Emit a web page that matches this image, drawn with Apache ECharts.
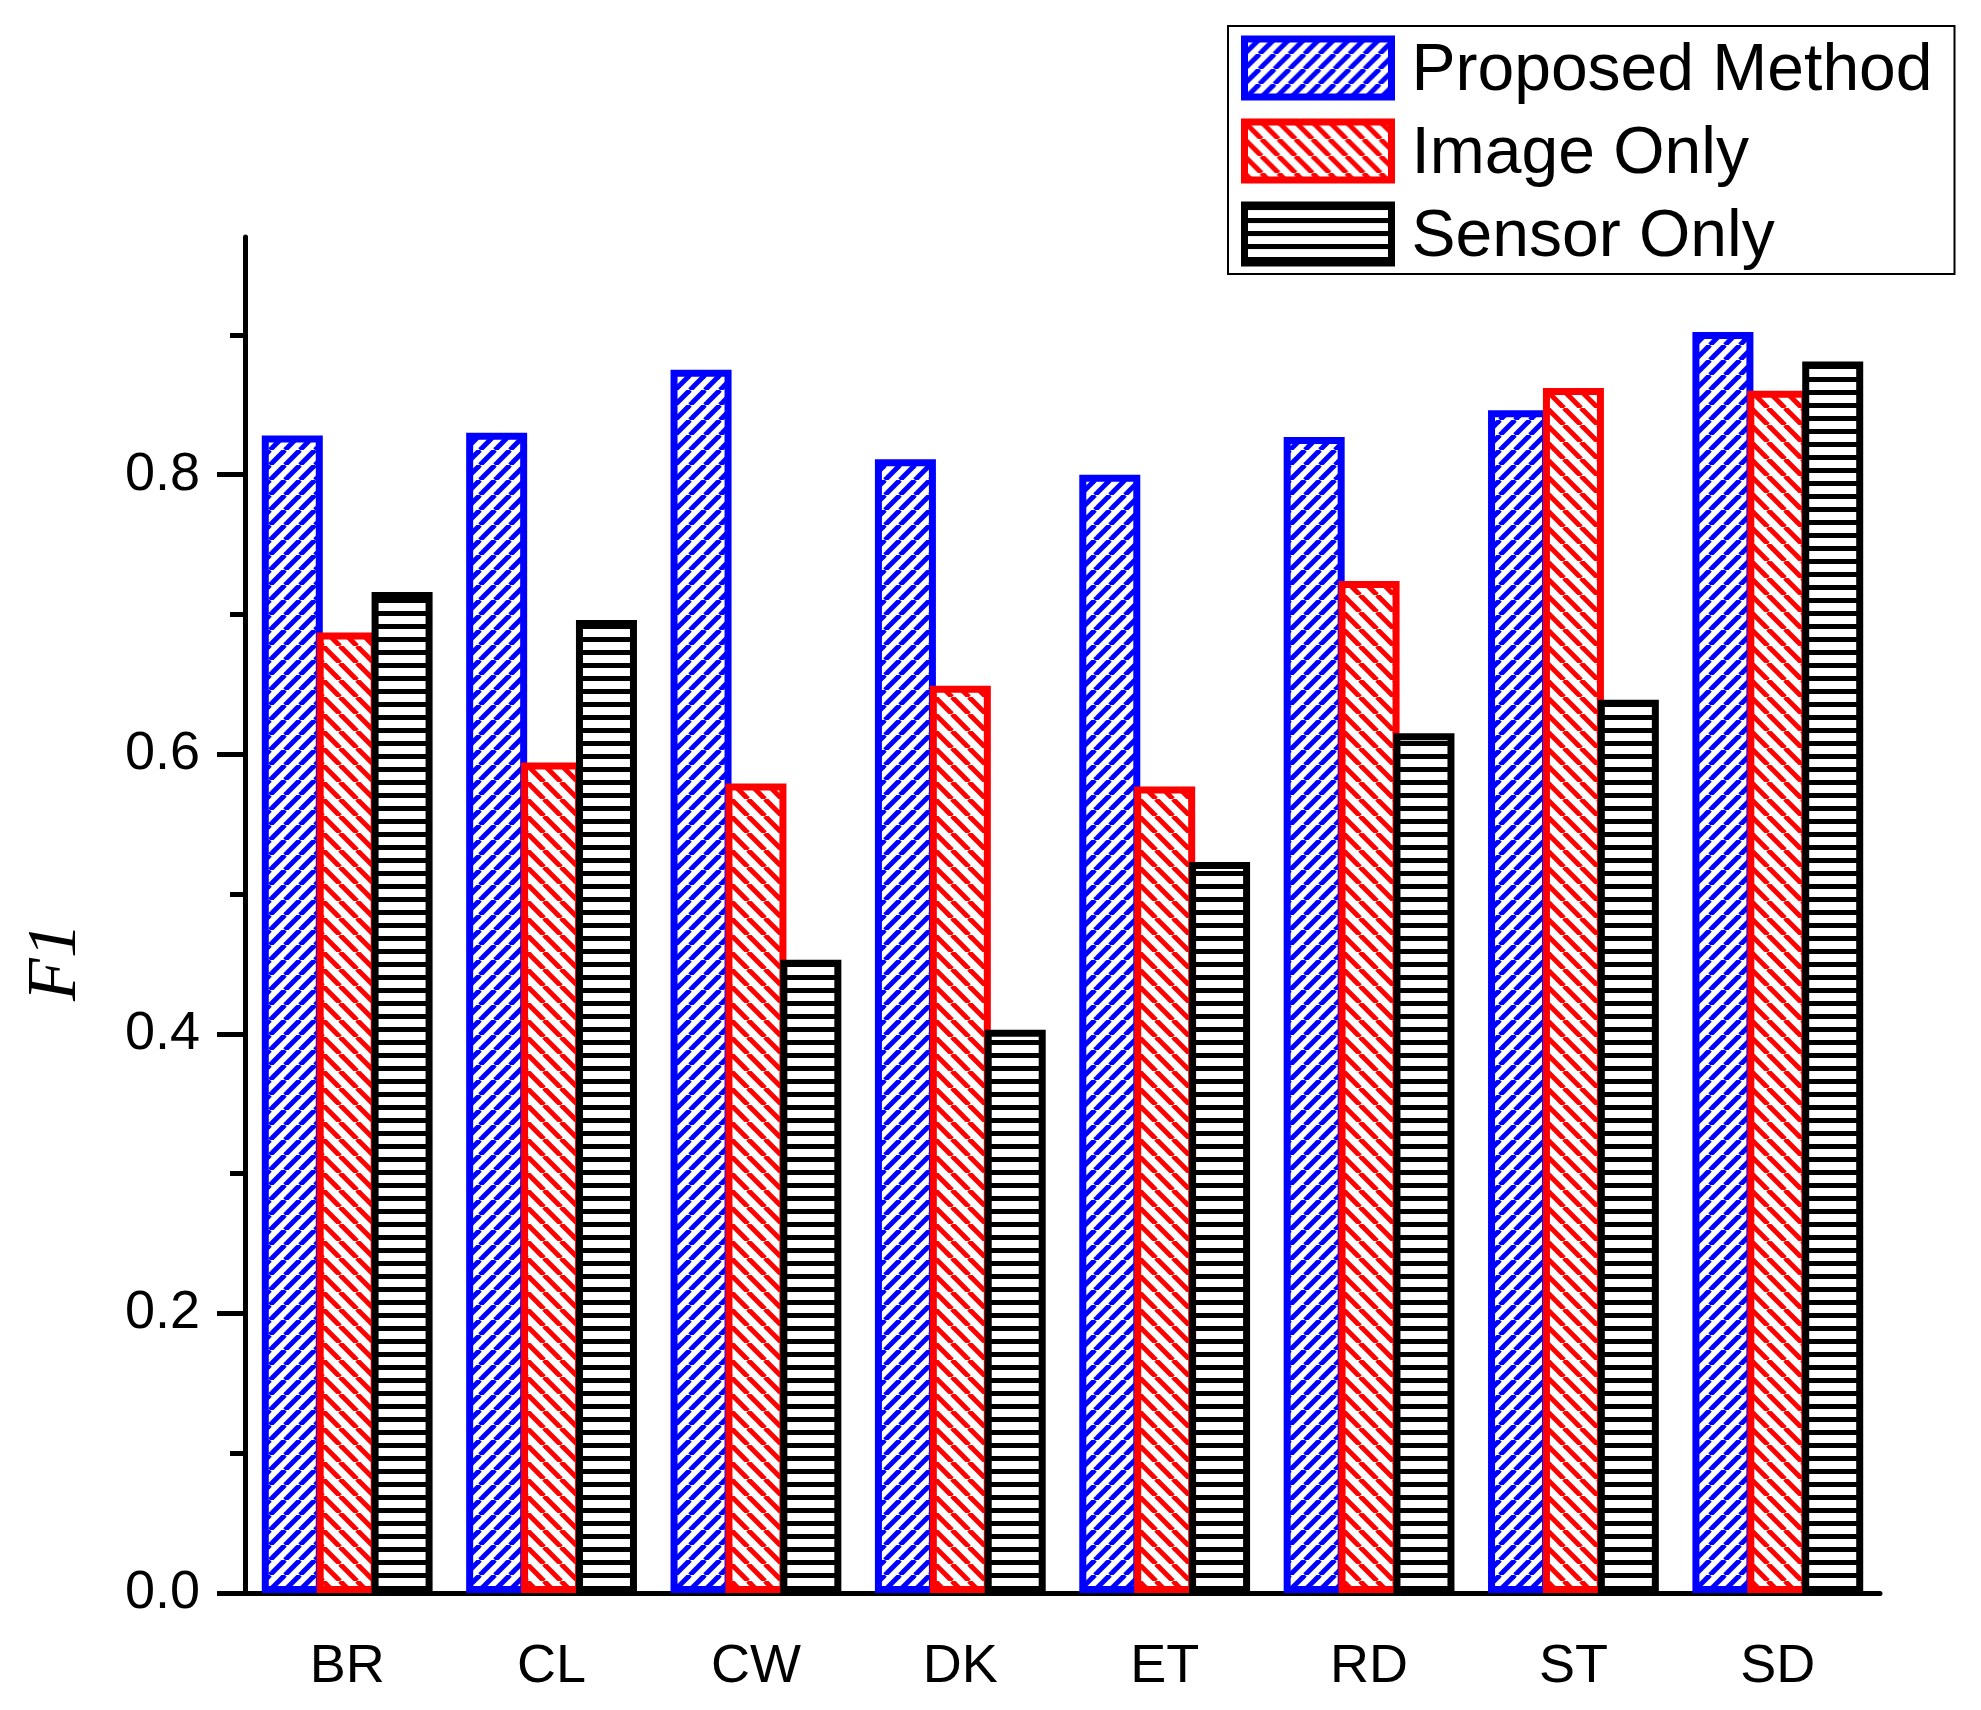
<!DOCTYPE html>
<html>
<head>
<meta charset="utf-8">
<script src="https://cdn.jsdelivr.net/npm/echarts@6/dist/echarts.min.js"></script>
<style>html,body{margin:0;padding:0;background:#fff}#c{width:1981px;height:1710px}</style>
</head>
<body>
<div id="c"></div>
<script>
const categories = ['BR', 'CL', 'CW', 'DK', 'ET', 'RD', 'ST', 'SD'];
const proposedMethod = [0.828, 0.830, 0.875, 0.811, 0.800, 0.827, 0.846, 0.902];
const imageOnly = [0.687, 0.594, 0.579, 0.649, 0.577, 0.724, 0.862, 0.860];
const sensorOnly = [0.716, 0.696, 0.453, 0.403, 0.523, 0.615, 0.639, 0.881];
const yMajorTicks = [0, 0.2, 0.4, 0.6, 0.8];
const yMinorTicks = [0.1, 0.3, 0.5, 0.7, 0.9];
const seriesNames = ['Proposed Method', 'Image Only', 'Sensor Only'];

function diagPattern(color, P, w, dir) {
  const c = document.createElement('canvas');
  c.width = P; c.height = P;
  const g = c.getContext('2d');
  g.fillStyle = '#fff'; g.fillRect(0, 0, P, P);
  g.strokeStyle = color; g.lineWidth = w; g.lineCap = 'butt';
  for (let k = -1; k <= 1; k++) {
    g.beginPath();
    if (dir > 0) { g.moveTo(k * P, P); g.lineTo(k * P + P, 0); }
    else { g.moveTo(k * P, 0); g.lineTo(k * P + P, P); }
    g.stroke();
  }
  return c;
}
function horizPattern(color, P, w) {
  const c = document.createElement('canvas');
  c.width = P; c.height = P;
  const g = c.getContext('2d');
  g.fillStyle = '#fff'; g.fillRect(0, 0, P, P);
  g.fillStyle = color; g.fillRect(0, 0, P, w);
  return c;
}
const fills = [
  { image: diagPattern('#0000ff', 15, 5, 1), repeat: 'repeat' },
  { image: diagPattern('#ff0000', 17, 5, -1), repeat: 'repeat' },
  { image: horizPattern('#000000', 13, 5), repeat: 'repeat' }
];
const borders = ['#0000ff', '#ff0000', '#000000'];
const values = [proposedMethod, imageOnly, sensorOnly];

const chart = echarts.init(document.getElementById('c'));
const font = 'Liberation Sans';
chart.setOption({
  animation: false,
  backgroundColor: '#fff',
  grid: { left: 245, right: 101, top: 237, bottom: 117 },
  legend: {
    left: 1228, top: 26, orient: 'vertical',
    padding: [5, 22, 3, 13],
    borderColor: '#000', borderWidth: 2,
    itemWidth: 147, itemHeight: 58, itemGap: 9,
    icon: 'rect',
    formatter: '{t|{name}}',
    textStyle: { fontFamily: font, fontSize: 66, color: '#000',
      rich: { t: { fontFamily: font, fontSize: 66, lineHeight: 66, color: '#000', padding: [8, 0, 0, 15] } } },
    data: seriesNames.map((n, i) => ({ name: n, itemStyle: { borderColor: borders[i], borderWidth: 7, color: fills[i] } }))
  },
  xAxis: [{
    type: 'category', data: categories, position: 'bottom',
    axisLine: { lineStyle: { color: '#000', width: 5 } },
    axisTick: { alignWithLabel: true, length: 28, lineStyle: { width: 5, color: '#000' } },
    axisLabel: { fontFamily: font, fontSize: 54, color: '#000', margin: 47 },
    splitLine: { show: false }
  }, {
    type: 'category', data: categories, position: 'bottom',
    axisLine: { show: false },
    axisTick: { length: 15, lineStyle: { width: 5, color: '#000' } },
    axisLabel: { show: false },
    splitLine: { show: false }
  }],
  yAxis: [{
    type: 'value', min: 0, max: 0.97, position: 'left',
    axisLine: { show: true, lineStyle: { color: '#000', width: 5 } },
    axisTick: { show: true, length: 28, customValues: yMajorTicks, lineStyle: { width: 5, color: '#000' } },
    axisLabel: { customValues: yMajorTicks, fontFamily: font, fontSize: 54, color: '#000', margin: 45,
      formatter: v => v.toFixed(1) },
    splitLine: { show: false }
  }, {
    type: 'value', min: 0, max: 0.97, position: 'left',
    axisLine: { show: false },
    axisTick: { show: true, length: 15, customValues: yMinorTicks, lineStyle: { width: 5, color: '#000' } },
    axisLabel: { show: false },
    splitLine: { show: false }
  }],
  graphic: [{
    type: 'text', x: 57, y: 962, rotation: Math.PI / 2,
    style: { text: 'F1', font: 'italic 70px "Liberation Serif"', fill: '#000', align: 'center', verticalAlign: 'middle' }
  }],
  series: seriesNames.map((n, i) => ({
    name: n, type: 'bar', xAxisIndex: 0, yAxisIndex: 0,
    data: values[i], barWidth: 61, barGap: '-10%',
    itemStyle: { color: fills[i], borderColor: borders[i], borderWidth: 7 },
    emphasis: { disabled: true }
  }))
});
</script>
</body>
</html>
